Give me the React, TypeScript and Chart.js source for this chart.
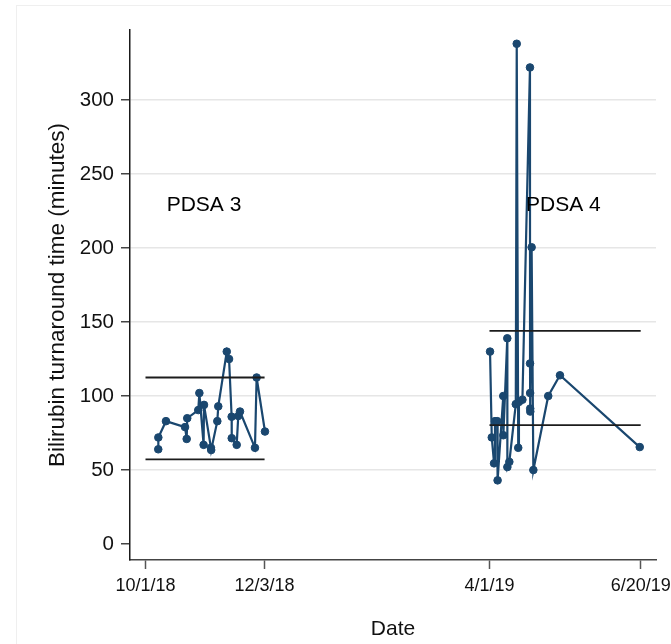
import React, { useEffect, useRef } from "react";
import { Chart, registerables } from "chart.js";

Chart.register(...registerables);

// ---- data ----
const originDate = "2018-10-01T00:00Z";

const pdsa3Dates = [
  "2018-10-07T18:00Z", "2018-10-07T19:00Z", "2018-10-11T20:00Z", "2018-10-21T22:00Z",
  "2018-10-22T19:00Z", "2018-10-23T02:00Z", "2018-10-28T22:00Z", "2018-10-29T12:00Z",
  "2018-10-31T18:00Z", "2018-10-31T23:00Z", "2018-11-04T15:00Z", "2018-11-04T18:00Z",
  "2018-11-08T00:00Z", "2018-11-08T12:00Z", "2018-11-13T00:00Z", "2018-11-14T05:00Z",
  "2018-11-15T14:00Z", "2018-11-15T15:00Z", "2018-11-18T06:00Z", "2018-11-19T02:00Z",
  "2018-11-20T00:00Z", "2018-11-27T22:00Z", "2018-11-28T19:00Z", "2018-12-03T05:00Z",
];
const pdsa3Values = [
  64, 72, 83, 79,
  71, 85, 90.5, 102,
  67, 94, 65, 63.5,
  83, 93, 130, 125,
  86, 71.5, 67, 86.5,
  89.5, 65, 112.5, 76,
];

const pdsa4Dates = [
  "2019-04-01T07:00Z", "2019-04-02T05:00Z", "2019-04-03T10:00Z", "2019-04-03T22:00Z",
  "2019-04-05T02:00Z", "2019-04-05T07:00Z", "2019-04-08T07:00Z", "2019-04-08T08:00Z",
  "2019-04-10T10:00Z", "2019-04-10T11:00Z", "2019-04-11T12:00Z", "2019-04-14T22:00Z",
  "2019-04-15T10:00Z", "2019-04-16T05:00Z", "2019-04-16T14:00Z", "2019-04-18T10:00Z",
  "2019-04-22T10:00Z", "2019-04-22T11:00Z", "2019-04-22T12:00Z", "2019-04-22T13:00Z",
  "2019-04-22T14:00Z", "2019-04-23T07:00Z", "2019-04-24T05:00Z", "2019-05-02T02:00Z",
  "2019-05-08T07:00Z", "2019-06-19T12:00Z",
];
const pdsa4Values = [
  130, 72, 54.5, 83,
  83, 43, 100, 73.5,
  139, 52, 55.5, 94.5,
  338, 65, 96, 97.5,
  322, 122, 102, 91.5,
  89.5, 200.5, 50, 100,
  114, 65.5,
];

// control limit lines: [start, end] dates with upper / lower values
const pdsa3LimitDates = ["2018-10-01T00:00Z", "2018-12-03T00:00Z"];
const pdsa3Upper = 112.5;
const pdsa3Lower = 57.2;
const pdsa4LimitDates = ["2019-04-01T00:00Z", "2019-06-20T00:00Z"];
const pdsa4Upper = 144;
const pdsa4Lower = 80.3;

const phaseLabels = ["PDSA 3", "PDSA 4"];
const phaseLabelDates = ["2018-10-12T05:00Z", "2019-04-20T08:00Z"];
const phaseLabelValues = [229, 229];

const xTickDates = ["2018-10-01T00:00Z", "2018-12-03T00:00Z", "2019-04-01T00:00Z", "2019-06-20T00:00Z"];
const xTickLabels = ["10/1/18", "12/3/18", "4/1/19", "6/20/19"];
const yTickValues = [0, 50, 100, 150, 200, 250, 300];

const xMinDay = -8.2;
const xMaxDay = 270.1;
const yMin = -10.8;
const yMax = 347.3;

const NAVY = "#1a476f";
const FONT = '"Liberation Sans", Arial, sans-serif';

const toDay = (s: string) => (Date.parse(s) - Date.parse(originDate)) / 86400000;
const pts = (dates: string[], values: number[]) => dates.map((d, i) => ({ x: toDay(d), y: values[i] }));

export default function App() {
  const ref = useRef<HTMLCanvasElement | null>(null);

  useEffect(() => {
    if (!ref.current) return;

    const labelPlugin = {
      id: "phaseLabels",
      beforeDraw(chart: any) {
        const ctx = chart.ctx;
        ctx.save();
        ctx.strokeStyle = "#efefef";
        ctx.lineWidth = 1;
        ctx.strokeRect(16.5, 5.5, 900, 900);
        ctx.restore();
      },
      afterDatasetsDraw(chart: any) {
        const ctx = chart.ctx;
        const xs = chart.scales.x;
        const ys = chart.scales.y;
        ctx.save();
        ctx.font = `21px ${FONT}`;
        ctx.fillStyle = "#000";
        ctx.textAlign = "left";
        ctx.textBaseline = "middle";
        phaseLabels.forEach((t, i) => {
          ctx.fillText(t, xs.getPixelForValue(toDay(phaseLabelDates[i])), ys.getPixelForValue(phaseLabelValues[i]));
        });
        ctx.restore();
      },
    };

    const limitLine = (dates: string[], v: number) => ({
      data: dates.map((d) => ({ x: toDay(d), y: v })),
      borderColor: "#1c1c1c",
      borderWidth: 1.8,
      pointRadius: 0,
      fill: false,
    });

    const series = (dates: string[], values: number[]) => ({
      data: pts(dates, values),
      borderColor: NAVY,
      backgroundColor: NAVY,
      pointBackgroundColor: NAVY,
      pointBorderColor: NAVY,
      pointRadius: 3.8,
      pointBorderWidth: 1,
      borderWidth: 2.2,
      tension: 0,
      fill: false,
    });

    const chart = new Chart(ref.current, {
      type: "line",
      data: {
        datasets: [
          limitLine(pdsa3LimitDates, pdsa3Upper),
          limitLine(pdsa3LimitDates, pdsa3Lower),
          limitLine(pdsa4LimitDates, pdsa4Upper),
          limitLine(pdsa4LimitDates, pdsa4Lower),
          series(pdsa3Dates, pdsa3Values),
          series(pdsa4Dates, pdsa4Values),
        ] as any,
      },
      options: {
        animation: false,
        responsive: false,
        maintainAspectRatio: false,
        devicePixelRatio: 1,
        layout: { padding: { left: 0, right: 15, top: 30, bottom: 0 } },
        plugins: { legend: { display: false }, tooltip: { enabled: false } },
        scales: {
          x: {
            type: "linear",
            min: xMinDay,
            max: xMaxDay,
            afterBuildTicks: (s: any) => {
              s.ticks = xTickDates.map((d) => ({ value: toDay(d) }));
            },
            afterFit: (s: any) => {
              s.height = 84;
              s.paddingLeft = 0;
              s.paddingRight = 0;
            },
            ticks: {
              autoSkip: false,
              maxRotation: 0,
              padding: 6,
              color: "#111",
              font: { family: FONT, size: 18 },
              callback: (v: any) => {
                const i = xTickDates.findIndex((d) => Math.abs(toDay(d) - v) < 1e-6);
                return i >= 0 ? xTickLabels[i] : "";
              },
            },
            grid: {
              drawOnChartArea: false,
              drawTicks: true,
              tickLength: 9,
              tickColor: "#555",
              tickWidth: 1.5,
            },
            border: { display: true, color: "#444", width: 1.5 },
            title: {
              display: true,
              text: "Date",
              color: "#111",
              font: { family: FONT, size: 21 },
              padding: { top: 0, bottom: 2 },
            },
          },
          y: {
            type: "linear",
            min: yMin,
            max: yMax,
            afterBuildTicks: (s: any) => {
              s.ticks = yTickValues.map((v) => ({ value: v }));
            },
            afterFit: (s: any) => {
              s.width = 130;
              s.paddingTop = 0;
              s.paddingBottom = 0;
            },
            ticks: {
              autoSkip: false,
              padding: 7,
              color: "#111",
              font: { family: FONT, size: 20.5 },
              callback: (v: any) => String(v),
            },
            grid: {
              color: (c: any) => (c.tick && c.tick.value === 0 ? "rgba(0,0,0,0)" : "#e6e6e6"),
              lineWidth: 1.5,
              drawTicks: true,
              tickLength: 9,
              tickColor: "#444",
              tickWidth: 1.5,
            },
            border: { display: true, color: "#1a1a1a", width: 1.5 },
            title: {
              display: true,
              text: "Bilirubin turnaround time (minutes)",
              color: "#111",
              font: { family: FONT, size: 22.5 },
              padding: { top: 44, bottom: 0 },
            },
          },
        },
      } as any,
      plugins: [labelPlugin],
    });

    return () => chart.destroy();
  }, []);

  return (
    <div style={{ position: "absolute", left: 0, top: 0, width: 671, height: 644, background: "#fff" }}>
      <canvas ref={ref} width={671} height={644} style={{ display: "block", width: 671, height: 644 }} />
    </div>
  );
}
